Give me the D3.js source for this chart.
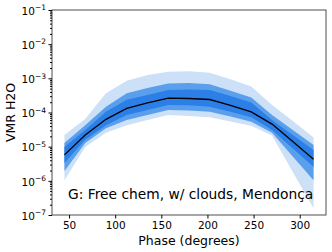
<!DOCTYPE html>
<html>
<head>
<meta charset="utf-8">
<script src="https://cdn.jsdelivr.net/npm/d3@7"></script>
<style>
  body { margin: 0; background: #fff; }
  svg { display: block; font-family: "DejaVu Sans", sans-serif; }
</style>
</head>
<body>
<div id="chart"></div>
<script>
// phases (degrees) and log10 VMR percentiles
var phases = [45, 67.5, 90, 112.5, 135, 157.5, 180, 202.5, 225, 247.5, 270, 292.5, 315];
var median = [-5.24, -4.66, -4.20, -3.88, -3.72, -3.58, -3.59, -3.62, -3.79, -3.98, -4.34, -4.85, -5.37];
var lo1 = [-5.48, -4.80, -4.37, -4.07, -3.93, -3.78, -3.79, -3.83, -3.98, -4.14, -4.51, -5.05, -5.59];
var hi1 = [-5.01, -4.51, -3.98, -3.63, -3.49, -3.34, -3.33, -3.34, -3.52, -3.71, -4.22, -4.66, -5.10];
var lo2 = [-5.71, -4.89, -4.46, -4.22, -4.07, -3.93, -3.94, -3.98, -4.12, -4.27, -4.59, -5.29, -5.98];
var hi2 = [-4.89, -4.37, -3.83, -3.44, -3.28, -3.15, -3.14, -3.17, -3.36, -3.56, -4.07, -4.51, -4.95];
var lo3 = [-5.98, -5.01, -4.59, -4.37, -4.22, -4.07, -4.10, -4.14, -4.26, -4.39, -4.67, -5.74, -6.80];
var hi3 = [-4.66, -4.19, -3.44, -3.07, -2.90, -2.81, -2.79, -2.84, -3.03, -3.24, -3.78, -4.25, -4.73];
var xTicks = [50, 100, 150, 200, 250, 300];
var yExps = [-7, -6, -5, -4, -3, -2, -1];
var label = "G: Free chem, w/ clouds, Mendonça";

var width = 332, height = 252;
var margin = {left: 52, right: 6, top: 10, bottom: 37};

var svg = d3.select("#chart").append("svg")
    .attr("width", width)
    .attr("height", height);

var x = d3.scaleLinear()
    .domain([31.5, 328.5])
    .range([margin.left, width - margin.right]);

var y = d3.scaleLog()
    .domain([1e-7, 1e-1])
    .range([height - margin.bottom, margin.top]);

var rows = phases.map(function (p, i) {
    return {p: p, m: median[i], lo1: lo1[i], hi1: hi1[i], lo2: lo2[i], hi2: hi2[i], lo3: lo3[i], hi3: hi3[i]};
});

function band(loKey, hiKey) {
    return d3.area()
        .x(function (d) { return x(d.p); })
        .y0(function (d) { return y(Math.pow(10, d[loKey])); })
        .y1(function (d) { return y(Math.pow(10, d[hiKey])); });
}

svg.append("path").datum(rows).attr("d", band("lo3", "hi3")).attr("fill", "#cce0f7");
svg.append("path").datum(rows).attr("d", band("lo2", "hi2")).attr("fill", "#5a9fec");
svg.append("path").datum(rows).attr("d", band("lo1", "hi1")).attr("fill", "#2b7fe6");

svg.append("path").datum(rows)
    .attr("fill", "none")
    .attr("stroke", "#000")
    .attr("stroke-width", 1.3)
    .attr("d", d3.line()
        .x(function (d) { return x(d.p); })
        .y(function (d) { return y(Math.pow(10, d.m)); }));

// frame
svg.append("rect")
    .attr("x", margin.left)
    .attr("y", margin.top)
    .attr("width", width - margin.left - margin.right)
    .attr("height", height - margin.top - margin.bottom)
    .attr("fill", "none")
    .attr("stroke", "#222")
    .attr("stroke-width", 0.8);

// x axis
var xAxis = svg.append("g")
    .attr("transform", "translate(0," + (height - margin.bottom) + ")")
    .call(d3.axisBottom(x).tickValues(xTicks).tickSize(3.5).tickPadding(3.5));
xAxis.select(".domain").remove();
xAxis.selectAll("text").attr("font-size", 10.5).attr("fill", "#000").attr("font-family", "DejaVu Sans");

// y axis with minor ticks
var minor = [];
for (var e = -7; e < -1; e++) {
    for (var k = 2; k <= 9; k++) minor.push(k * Math.pow(10, e));
}
var yMinor = svg.append("g")
    .attr("transform", "translate(" + margin.left + ",0)")
    .call(d3.axisLeft(y).tickValues(minor).tickSize(2).tickFormat(""));
yMinor.select(".domain").remove();

var yAxis = svg.append("g")
    .attr("transform", "translate(" + margin.left + ",0)")
    .call(d3.axisLeft(y).tickValues(yExps.map(function (p) { return Math.pow(10, p); }))
        .tickSize(3.5).tickPadding(3).tickFormat(""));
yAxis.select(".domain").remove();

yAxis.selectAll(".tick").each(function (d) {
    var t = d3.select(this).append("text")
        .attr("x", -6)
        .attr("dy", "0.4em")
        .attr("text-anchor", "end")
        .attr("fill", "#000")
        .attr("font-size", 10.5)
        .attr("font-family", "DejaVu Sans");
    t.append("tspan").text("10");
    t.append("tspan")
        .attr("font-size", 7.5)
        .attr("dy", "-0.6em")
        .text("\u2212" + (-Math.round(Math.log10(d))));
});

// axis labels
svg.append("text")
    .attr("x", (margin.left + width - margin.right) / 2)
    .attr("y", 245)
    .attr("text-anchor", "middle")
    .attr("font-size", 12.5)
    .text("Phase (degrees)");

svg.append("text")
    .attr("transform", "translate(15," + ((margin.top + height - margin.bottom) / 2) + ") rotate(-90)")
    .attr("text-anchor", "middle")
    .attr("font-size", 12.5)
    .text("VMR H2O");

svg.append("text")
    .attr("x", 68)
    .attr("y", 199)
    .attr("font-size", 13.8)
    .text(label);
</script>
</body>
</html>
